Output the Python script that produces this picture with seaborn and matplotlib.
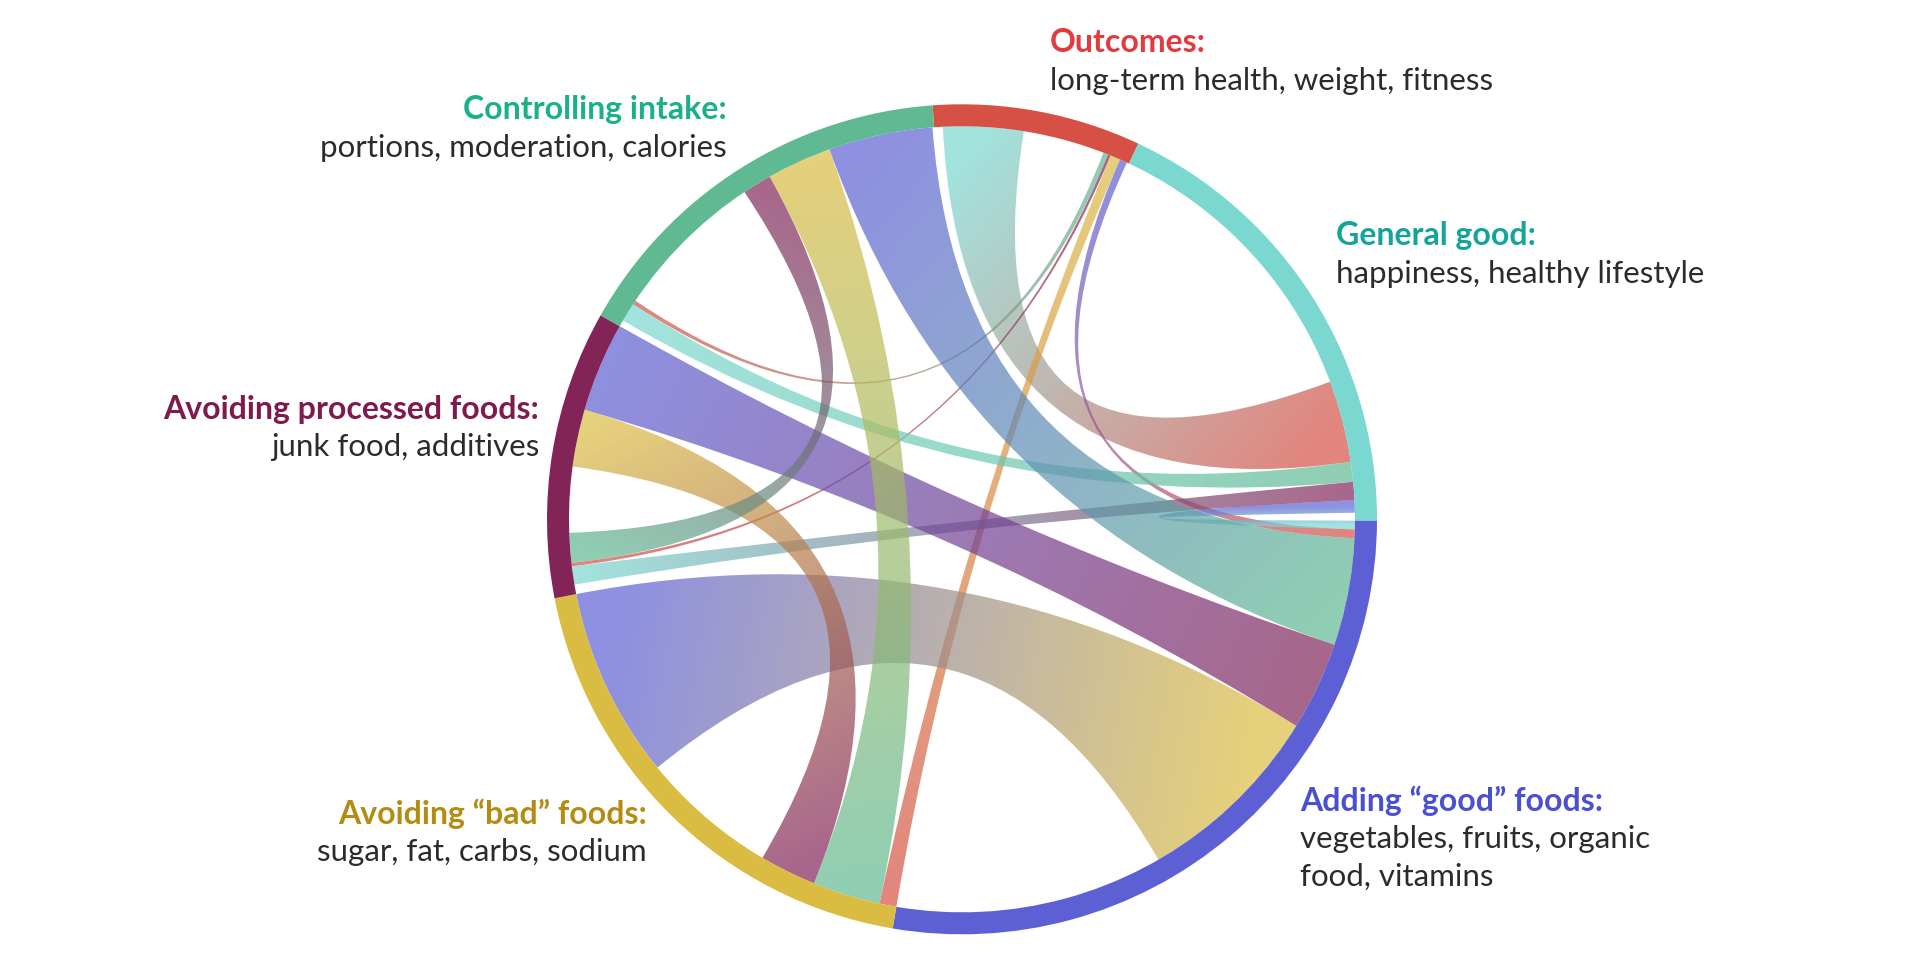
import numpy as np
import matplotlib
matplotlib.use("Agg")
import matplotlib.pyplot as plt
import seaborn as sns
from matplotlib.path import Path
from matplotlib.patches import PathPatch, Wedge
from matplotlib.colors import to_rgb

# groups, clockwise from the top
groups = ["Outcomes", "General good", "Adding good foods",
          "Avoiding bad foods", "Avoiding processed foods", "Controlling intake"]
titles = ["Outcomes:", "General good:", "Adding \u201cgood\u201d foods:",
          "Avoiding \u201cbad\u201d foods:", "Avoiding processed foods:", "Controlling intake:"]
subtitles = ["long-term health, weight, fitness",
             "happiness, healthy lifestyle",
             "vegetables, fruits, organic\nfood, vitamins",
             "sugar, fat, carbs, sodium",
             "junk food, additives",
             "portions, moderation, calories"]

ring_colors = ["#d65046", "#7ad8d0", "#5d60d4", "#dbbc42", "#832459", "#5fb993"]
title_colors = ["#e23a3f", "#13a49a", "#4b50d1", "#b58c12", "#7f1a4f", "#19b08a"]

# flows[i][j] = share of group i's arc given to its link with group j
# (diagonal = unlinked part of the arc, left blank)
flows = [
    # Out    GG     Add    Bad    Proc   Ctrl
    [12.05, 11.85,  1.10,  1.50,  0.40,  0.70],   # Outcomes
    [12.07, 44.35,  1.85,  0.00,  2.68,  2.94],   # General good
    [ 1.31,  1.26, 39.60, 28.30, 13.10, 15.83],   # Adding good
    [ 2.50,  0.00, 28.20, 20.30,  8.40, 10.00],   # Avoiding bad
    [ 0.50,  2.70, 13.25,  8.45,  9.70,  4.40],   # Avoiding processed
    [ 0.60,  2.80, 15.40,  9.60,  4.30, 22.60],   # Controlling intake
]
gap_before = [1.26, 0.0, 0.0, 0.0, 1.40, 0.95]
gap_after = [0.34, 1.16, 0.0, 0.0, 0.0, 0.25]
partner_order = [1, 0, 5, 4, 3, 2]   # order of links inside each arc, clockwise
start_angle = 94.06

sns.set_theme(style="white")
plt.rcParams['font.family'] = ['Lato', 'DejaVu Sans']

cx, cy = 962, 440.7
r_out, r_in = 415, 393
alpha = 0.7

n = len(groups)
F = np.array(flows)
spans = np.array(gap_before) + F.sum(axis=1) + np.array(gap_after)
deg = 360.0 / spans.sum()

group_ang = []
ends = {}
a = start_angle
for i in range(n):
    g0 = a
    a -= gap_before[i] * deg
    for j in partner_order:
        w = F[i, j] * deg
        ends[(i, j)] = (a, a - w)
        a -= w
    a -= gap_after[i] * deg
    group_ang.append((g0, a))


def pt(ang, r=r_in):
    t = np.radians(ang)
    return (cx + r * np.cos(t), cy + r * np.sin(t))


def arc(a0, a1):
    k = max(int(abs(a1 - a0) * 4), 2)
    return [pt(t) for t in np.linspace(a0, a1, k)]


def ribbon(s, t):
    verts = arc(*s)
    codes = [Path.MOVETO] + [Path.LINETO] * (len(verts) - 1)
    verts += [(cx, cy), pt(t[0])]
    codes += [Path.CURVE3, Path.CURVE3]
    tv = arc(*t)[1:]
    verts += tv
    codes += [Path.LINETO] * len(tv)
    verts += [(cx, cy), pt(s[0]), pt(s[0])]
    codes += [Path.CURVE3, Path.CURVE3, Path.CLOSEPOLY]
    return Path(verts, codes)


fig = plt.figure(figsize=(19.2, 9.6), dpi=100)
ax = fig.add_axes([0, 0, 1, 1])

cols = [np.array(to_rgb(c)) for c in ring_colors]
for i in range(n):
    for j in range(i + 1, n):
        if F[i, j] == 0 and F[j, i] == 0:
            continue
        s, t = ends[(i, j)], ends[(j, i)]
        path = ribbon(s, t)
        bb = path.get_extents()
        x0, y0 = int(np.floor(bb.x0)) - 1, int(np.floor(bb.y0)) - 1
        x1, y1 = int(np.ceil(bb.x1)) + 1, int(np.ceil(bb.y1)) + 1
        X, Y = np.meshgrid(np.arange(x0, x1 + 1), np.arange(y0, y1 + 1))
        pi = np.array(pt(np.mean(s)))
        pj = np.array(pt(np.mean(t)))
        d = pj - pi
        tt = np.clip(((X - pi[0]) * d[0] + (Y - pi[1]) * d[1]) / d.dot(d), 0, 1)[..., None]
        rgb = (1 - tt) * cols[j] + tt * cols[i]
        img = np.dstack([rgb, np.full(X.shape, alpha)])
        im = ax.imshow(img, extent=(x0 - 0.5, x1 + 0.5, y0 - 0.5, y1 + 0.5),
                       origin='lower', interpolation='bilinear', zorder=2)
        im.set_clip_path(PathPatch(path, transform=ax.transData))

for i in range(n):
    g0, g1 = group_ang[i]
    ax.add_patch(Wedge((cx, cy), r_out, g1, g0, width=r_out - r_in,
                       facecolor=ring_colors[i], edgecolor='none', zorder=3))

# label anchors: x, y of title, alignment
label_pos = [(1050, 917, 'left'), (1336, 724, 'left'), (1300, 159, 'left'),
             (647, 146, 'right'), (539, 551, 'right'), (727, 850, 'right')]
line_gap = 38
for i in range(n):
    x, y, ha = label_pos[i]
    ax.text(x, y, titles[i], ha=ha, va='center', fontsize=23, fontweight='bold',
            color=title_colors[i])
    for k, line in enumerate(subtitles[i].split("\n")):
        ax.text(x, y - line_gap * (k + 1), line, ha=ha, va='center', fontsize=22.5,
                color='#2b2b2b')

ax.set_xlim(0, 1920)
ax.set_ylim(0, 960)
ax.set_aspect('auto')
ax.axis('off')
fig.savefig("out.png", dpi=100, facecolor='white')
